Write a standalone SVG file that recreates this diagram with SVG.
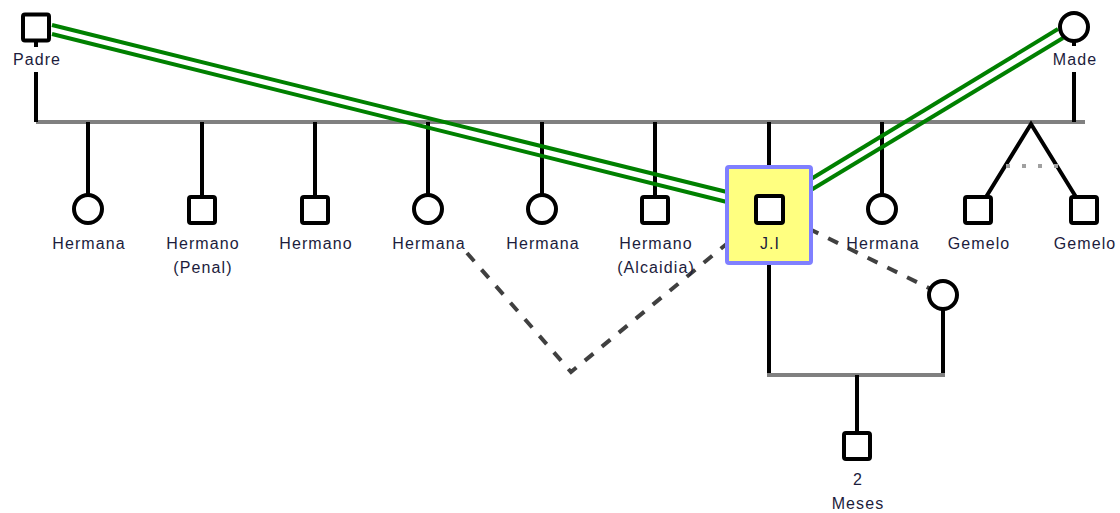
<svg xmlns="http://www.w3.org/2000/svg" width="1120" height="513" viewBox="0 0 1120 513">
<style>
.sib{stroke:#808080;stroke-width:4;fill:none}
.ln{stroke:#000;stroke-width:4;fill:none}
.dash{stroke:#404040;stroke-width:4;stroke-dasharray:11 11;fill:none}
.dot{stroke:#a0a0a0;stroke-width:4;stroke-dasharray:4 12;fill:none}
.grn{stroke:#008000;stroke-width:4;fill:none}
.m{fill:#fff;stroke:#000;stroke-width:4}
.f{fill:#fff;stroke:#000;stroke-width:4}
.t{font-family:"Liberation Sans",Arial,sans-serif;font-size:16px;letter-spacing:1.1px;fill:#1c1c3c;text-anchor:middle}
.box{fill:#ffff80;stroke:#8080ff;stroke-width:4}
</style>
<rect width="1120" height="513" fill="#fff"/>
<g id="connectors">
<line class="sib" x1="36" y1="122" x2="1085" y2="122"/>
<line class="ln" x1="36" y1="41" x2="36" y2="47"/>
<line class="ln" x1="36" y1="72" x2="36" y2="122"/>
<line class="ln" x1="1074" y1="41" x2="1074" y2="46"/>
<line class="ln" x1="1074" y1="72" x2="1074" y2="122"/>
<line class="ln" x1="88" y1="122" x2="88" y2="195"/>
<line class="ln" x1="202" y1="122" x2="202" y2="197"/>
<line class="ln" x1="315" y1="122" x2="315" y2="197"/>
<line class="ln" x1="428" y1="122" x2="428" y2="195"/>
<line class="ln" x1="542" y1="122" x2="542" y2="195"/>
<line class="ln" x1="655" y1="122" x2="655" y2="197"/>
<line class="ln" x1="769" y1="122" x2="769" y2="167"/>
<line class="ln" x1="882" y1="122" x2="882" y2="195"/>
<polyline class="ln" points="978,210 1031,124 1084,210"/>
<line class="dot" x1="1006" y1="166" x2="1058" y2="166"/>
<polyline class="dash" points="467,253 571,372 769,209"/>
<line class="dash" x1="769" y1="209" x2="943" y2="295"/>
<line class="ln" x1="769" y1="263" x2="769" y2="375"/>
<line class="ln" x1="943" y1="295" x2="943" y2="375"/>
<line class="sib" x1="767" y1="375" x2="945" y2="375"/>
<line class="ln" x1="857" y1="375" x2="857" y2="433"/>
<line class="grn" x1="52" y1="25" x2="727" y2="192"/>
<line class="grn" x1="52" y1="34" x2="727" y2="202"/>
<line class="grn" x1="811" y1="179" x2="1058" y2="29"/>
<line class="grn" x1="811" y1="190" x2="1063" y2="38"/>
</g>
<g id="padre"><rect class="m" x="23" y="14.5" width="26" height="26" rx="2"/><text class="t" x="37" y="65">Padre</text></g>
<g id="made"><circle class="f" cx="1074" cy="27" r="14"/><text class="t" x="1075" y="65">Made</text></g>
<g id="hermana1"><circle class="f" cx="88" cy="209" r="14"/><text class="t" x="89" y="249">Hermana</text></g>
<g id="hermano-penal"><rect class="m" x="189" y="197" width="26" height="26" rx="2"/><text class="t" x="203" y="249">Hermano</text><text class="t" x="203" y="273">(Penal)</text></g>
<g id="hermano2"><rect class="m" x="302" y="197" width="26" height="26" rx="2"/><text class="t" x="316" y="249">Hermano</text></g>
<g id="hermana2"><circle class="f" cx="428" cy="209" r="14"/><text class="t" x="429" y="249">Hermana</text></g>
<g id="hermana3"><circle class="f" cx="542" cy="209" r="14"/><text class="t" x="543" y="249">Hermana</text></g>
<g id="hermano-alcaidia"><rect class="m" x="642" y="197" width="26" height="26" rx="2"/><text class="t" x="656" y="249">Hermano</text><text class="t" x="656" y="273">(Alcaidia)</text></g>
<g id="ji"><rect class="box" x="727" y="167" width="84" height="96" rx="2"/><rect class="m" x="756" y="196" width="27" height="27" rx="2"/><text class="t" x="770" y="249">J.I</text></g>
<g id="hermana4"><circle class="f" cx="882" cy="209" r="14"/><text class="t" x="883" y="249">Hermana</text></g>
<g id="gemelo1"><rect class="m" x="965" y="197" width="26" height="26" rx="2"/><text class="t" x="979" y="249">Gemelo</text></g>
<g id="gemelo2"><rect class="m" x="1071" y="197" width="26" height="26" rx="2"/><text class="t" x="1085" y="249">Gemelo</text></g>
<g id="pareja"><circle class="f" cx="943" cy="295" r="14"/></g>
<g id="hijo"><rect class="m" x="844" y="433" width="26" height="26" rx="2"/><text class="t" x="858" y="485">2</text><text class="t" x="858" y="509">Meses</text></g>
</svg>
